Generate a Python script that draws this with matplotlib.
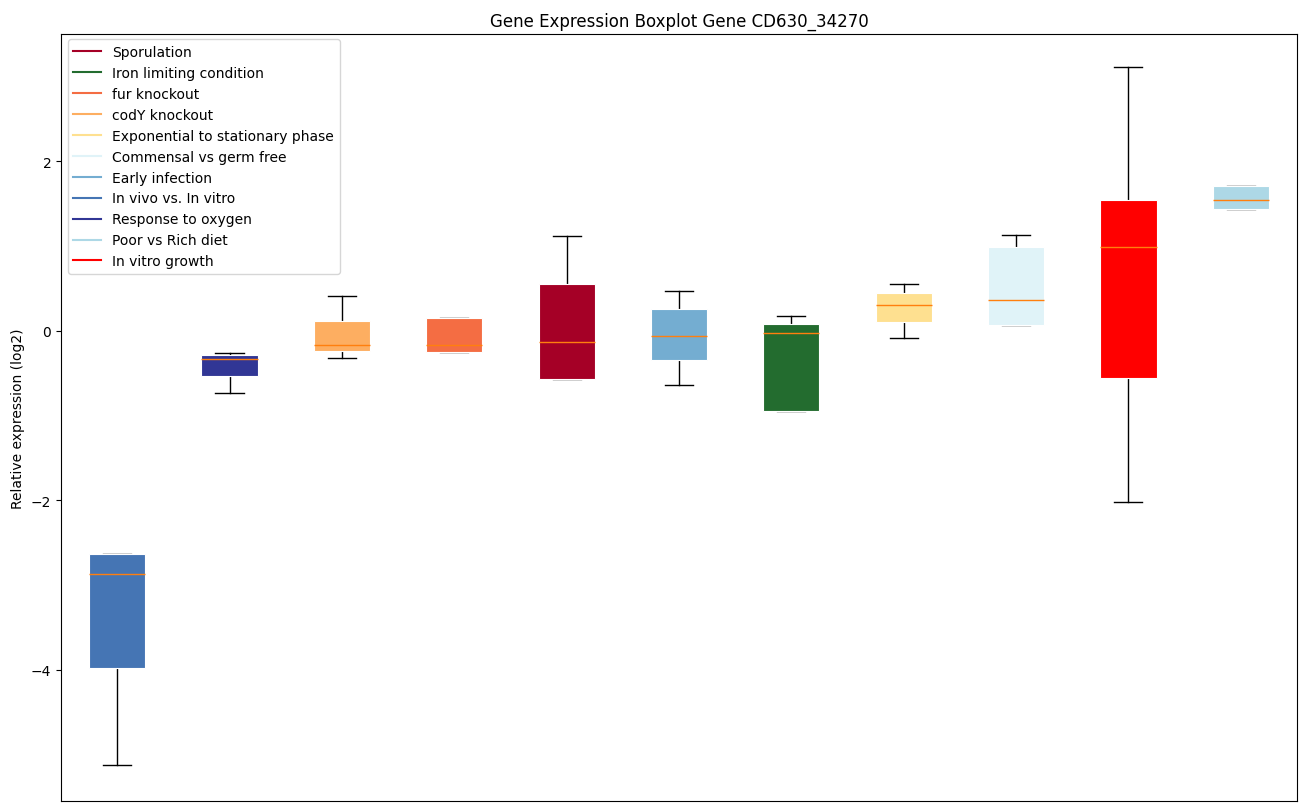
import matplotlib
matplotlib.use("Agg")
import matplotlib.pyplot as plt
from matplotlib.lines import Line2D

# ----------------------------
# Data, left to right
# ----------------------------
conditions = ["In vivo vs. In vitro", "Response to oxygen", "codY knockout",
              "fur knockout", "Sporulation", "Early infection",
              "Iron limiting condition", "Exponential to stationary phase",
              "Commensal vs germ free", "In vitro growth", "Poor vs Rich diet"]
whislo = [-5.13, -0.735, -0.32, -0.248, -0.574, -0.64, -0.944, -0.087, 0.063, -2.02, 1.44]
q1 = [-3.98, -0.54, -0.244, -0.248, -0.574, -0.342, -0.944, 0.098, 0.063, -0.555, 1.44]
med = [-2.87, -0.335, -0.165, -0.165, -0.13, -0.063, -0.024, 0.307, 0.362, 0.988, 1.542]
q3 = [-2.63, -0.29, 0.118, 0.145, 0.547, 0.252, 0.075, 0.448, 0.991, 1.546, 1.70]
whishi = [-2.63, -0.26, 0.41, 0.145, 1.12, 0.472, 0.177, 0.555, 1.129, 3.115, 1.70]

colors = {
    "Sporulation": "#a50026",
    "Iron limiting condition": "#236c2f",
    "fur knockout": "#f46d43",
    "codY knockout": "#fdae61",
    "Exponential to stationary phase": "#fee090",
    "Commensal vs germ free": "#e0f3f8",
    "Early infection": "#74add1",
    "In vivo vs. In vitro": "#4575b4",
    "Response to oxygen": "#313695",
    "Poor vs Rich diet": "#add8e6",
    "In vitro growth": "#ff0000",
}
legend_order = ["Sporulation", "Iron limiting condition", "fur knockout",
                "codY knockout", "Exponential to stationary phase",
                "Commensal vs germ free", "Early infection", "In vivo vs. In vitro",
                "Response to oxygen", "Poor vs Rich diet", "In vitro growth"]

# ----------------------------
# Plot
# ----------------------------
fig = plt.figure(figsize=(13.09, 8.12), dpi=100)
ax = fig.add_axes([0.0466, 0.0123, 0.9442, 0.9447])

stats = []
for i, name in enumerate(conditions):
    stats.append({"label": name, "whislo": whislo[i], "q1": q1[i], "med": med[i],
                  "q3": q3[i], "whishi": whishi[i], "fliers": []})

bp = ax.bxp(stats, patch_artist=True, showfliers=False,
            medianprops=dict(color="#ff7f0e", linewidth=1),
            boxprops=dict(edgecolor="white", linewidth=0.8),
            whiskerprops=dict(color="black", linewidth=1),
            capprops=dict(color="black", linewidth=1))
for patch, name in zip(bp["boxes"], conditions):
    patch.set_facecolor(colors[name])
    patch.set_zorder(3)
for line in bp["medians"]:
    line.set_zorder(4)

ax.set_xlim(0.5, 11.5)
ax.set_ylim(-5.55, 3.5)
ax.set_xticks([])
ax.set_yticks([-4, -2, 0, 2])
ax.set_ylabel("Relative expression (log2)")
ax.set_title("Gene Expression Boxplot Gene CD630_34270")

handles = [Line2D([0], [0], color=colors[n], lw=1.5) for n in legend_order]
leg = ax.legend(handles, legend_order, loc="upper left",
                bbox_to_anchor=(0.0, 1.002))
leg.set_zorder(5)

fig.savefig("out.png", dpi=100)
